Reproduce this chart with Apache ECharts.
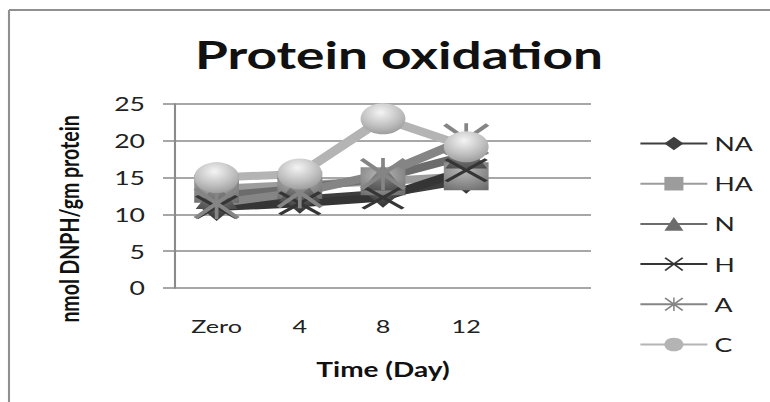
<!DOCTYPE html>
<html><head><meta charset="utf-8">
<script src="https://cdn.jsdelivr.net/npm/echarts@6/dist/echarts.min.js"></script>
<style>
html,body{margin:0;padding:0;background:#fff;overflow:hidden;width:770px;height:402px}
#c{width:550px;height:402px;transform:scaleX(1.4);transform-origin:0 0}
</style>
</head><body><div id="c"></div>
<script>
const categories = ['Zero', '4', '8', '12', ''];
const seriesNames = ['NA', 'HA', 'N', 'H', 'A', 'C'];
const NA = [11, 12, 12.8, 14.7, null];
const HA = [13.5, 14, 14.5, 15.2, null];
const N = [12.5, 13.5, 15, 18, null];
const H = [11, 11.5, 12.3, 16, null];
const A = [11.5, 13, 15.5, 20.2, null];
const C = [15, 15.5, 23, 19.2, null];
const yTicks = [0, 5, 10, 15, 20, 25];

// the reference image is stretched horizontally; layout is done at width 550 and scaled by S
const S = 1.4;
const W = 550;
const px = x => x / S;

const XPATH = 'path://M0,1.5 L1.5,0 L10,8.5 L18.5,0 L20,1.5 L11.5,10 L20,18.5 L18.5,20 L10,11.5 L1.5,20 L0,18.5 L8.5,10 Z';
const STAR = 'path://M0,1.5 L1.5,0 L10,8.5 L18.5,0 L20,1.5 L11.5,10 L20,18.5 L18.5,20 L10,11.5 L1.5,20 L0,18.5 L8.5,10 Z M9.2,0 L10.8,0 L10.8,20 L9.2,20 Z';

const grad = (hi, mid, lo) => new echarts.graphic.RadialGradient(0.45, 0.3, 0.85, [
  {offset: 0, color: hi}, {offset: 0.55, color: mid}, {offset: 1, color: lo}]);

const styles = {
  NA: {color: '#3e3e3e', symbol: 'diamond', size: [24, 28], fill: grad('#777', '#444', '#2a2a2a')},
  HA: {color: '#9c9c9c', symbol: 'rect', size: [32, 28], fill: grad('#b8b8b8', '#8e8e8e', '#6a6a6a')},
  N:  {color: '#6c6c6c', symbol: 'triangle', size: [30, 26], fill: grad('#8a8a8a', '#666', '#4a4a4a')},
  H:  {color: '#353535', symbol: XPATH, size: [31, 24], fill: '#353535'},
  A:  {color: '#858585', symbol: STAR, size: [33, 32], fill: '#858585'},
  C:  {color: '#b4b4b4', symbol: 'circle', size: [32, 31], fill: grad('#f4f4f4', '#bdbdbd', '#8a8a8a')}
};
const dataMap = {NA, HA, N, H, A, C};

const chart = echarts.init(document.getElementById('c'), null, {renderer: 'svg', width: W, height: 402});
const series = seriesNames.map(n => {
  const s = styles[n];
  return {
    name: n, type: 'line', data: dataMap[n],
    symbol: s.symbol, symbolSize: s.size,
    lineStyle: {color: s.color, width: 8},
    itemStyle: {color: s.fill},
    emphasis: {disabled: true},
    animation: false
  };
});

const F = 'Lato';
chart.setOption({
  animation: false,
  title: {
    text: 'Protein oxidation', left: px(392), top: 30, textAlign: 'center',
    textStyle: {fontFamily: F, fontWeight: 'bold', fontSize: 38, color: '#111'}
  },
  grid: {left: px(175), right: W - px(591), top: 104, bottom: 114},
  legend: {
    data: seriesNames.map(n => ({name: n, itemStyle: {color: styles[n].color}})),
    orient: 'vertical', left: px(639), top: 134, padding: 0,
    itemWidth: px(67), itemHeight: 17, itemGap: 21.2,
    textStyle: {fontFamily: F, fontSize: 19, color: '#222'}
  },
  xAxis: {
    type: 'category', data: categories, boundaryGap: true,
    name: 'Time (Day)', nameLocation: 'middle', nameGap: 71,
    nameTextStyle: {fontFamily: F, fontWeight: 'bold', fontSize: 20, color: '#111'},
    axisLine: {show: false}, axisTick: {show: false},
    axisLabel: {fontFamily: F, fontSize: 18, color: '#222', margin: 29}
  },
  yAxis: {
    type: 'value', min: 0, max: 25, interval: 5,
    axisLine: {show: true, lineStyle: {color: '#8a8a8a', width: 1.5}},
    axisTick: {show: true, length: px(12), lineStyle: {color: '#8a8a8a', width: 1.5}},
    splitLine: {lineStyle: {color: '#8a8a8a', width: 1.5}},
    axisLabel: {fontFamily: F, fontSize: 19, color: '#222', margin: px(30),
      formatter: v => yTicks.includes(v) ? String(v) : ''}
  },
  graphic: [
    {type: 'line', shape: {x1: px(9), y1: 10, x2: W, y2: 10}, style: {stroke: '#909090', lineWidth: 2}},
    {type: 'line', shape: {x1: px(9), y1: 10, x2: px(9), y2: 402}, style: {stroke: '#909090', lineWidth: 1.5}},
    {type: 'text', x: px(69), y: 219, rotation: Math.PI / 2,
      style: {text: 'nmol DNPH/gm protein', fontFamily: F, fontWeight: 'bold', fontSize: 19.5,
        fill: '#111', align: 'center', verticalAlign: 'middle'}}
  ],
  series
});
</script></body></html>
